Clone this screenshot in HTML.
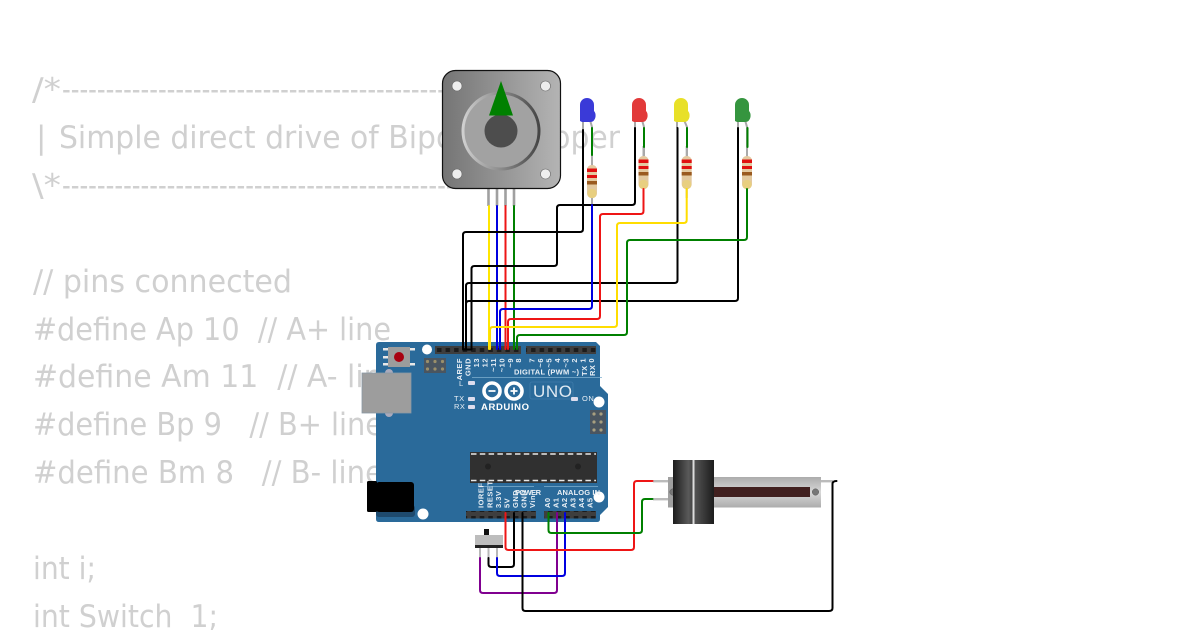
<!DOCTYPE html>
<html><head><meta charset="utf-8"><style>
html,body{margin:0;padding:0;background:#fff;width:1200px;height:630px;overflow:hidden}
svg{display:block}
.c{font-family:"DejaVu Sans",sans-serif;font-size:31px;fill:#d0d0d0}
.l{font-family:"Liberation Sans",sans-serif;font-size:7.5px;font-weight:bold;fill:#e8eff5;letter-spacing:.5px}
.w{fill:none;stroke-width:2;stroke-linejoin:round;stroke-linecap:round}
</style></head><body>
<svg width="1200" height="630" viewBox="0 0 1200 630" xmlns="http://www.w3.org/2000/svg">
<defs>
<linearGradient id="m" x1="0" x2="1" y1="0" y2="0"><stop offset="0" stop-color="#757575"/><stop offset="1" stop-color="#b4b4b4"/></linearGradient>
<linearGradient id="ring" x1="0" x2="1" y1="0" y2="0"><stop offset="0" stop-color="#d0d0d0"/><stop offset="1" stop-color="#454545"/></linearGradient>
<linearGradient id="kn" x1="0" x2="1" y1="0" y2="0"><stop offset="0" stop-color="#1c1c1c"/><stop offset=".8" stop-color="#5a5a5a"/><stop offset="1" stop-color="#444"/></linearGradient>
<linearGradient id="kn2" x1="0" x2="1" y1="0" y2="0"><stop offset="0" stop-color="#555"/><stop offset="1" stop-color="#1c1c1c"/></linearGradient>
<linearGradient id="sl" x1="0" x2="0" y1="0" y2="1"><stop offset="0" stop-color="#acacac"/><stop offset=".5" stop-color="#d8d8d8"/><stop offset="1" stop-color="#acacac"/></linearGradient>
<pattern id="hp" x="435" y="346" width="8.55" height="8" patternUnits="userSpaceOnUse"><rect width="8.55" height="8" fill="#3e3e3e"/><rect x="2" y="2" width="4.5" height="4" fill="#1c1c1c"/></pattern>
<g id="res"><rect x="-1" y="-10" width="2" height="52" fill="#aaa"/><rect x="-5" y="0" width="10" height="33" rx="4.5" fill="#e3c9a0"/><rect x="-5" y="3.5" width="10" height="3.5" fill="#e01010"/><rect x="-5" y="10" width="10" height="3" fill="#e01010"/><rect x="-5" y="16" width="10" height="3.5" fill="#9a5a20"/><rect x="-4.500" y="24" width="9" height="9" rx="4" fill="#e8cf80"/></g>
</defs>
<rect width="1200" height="630" fill="#fff"/>

<!-- code text -->
<text class="c" x="32" y="100" textLength="29" lengthAdjust="spacingAndGlyphs">/*</text>
<text class="c" x="62" y="100" textLength="410" lengthAdjust="spacingAndGlyphs">-----------------------------------------------</text>
<text class="c" x="36" y="148">|</text>
<text class="c" x="59" y="148" textLength="561" lengthAdjust="spacingAndGlyphs">Simple direct drive of Bipolar Stepper</text>
<text class="c" x="32" y="196" textLength="29" lengthAdjust="spacingAndGlyphs">\*</text>
<text class="c" x="62" y="196" textLength="410" lengthAdjust="spacingAndGlyphs">-----------------------------------------------</text>
<text class="c" x="33" y="292" textLength="259" lengthAdjust="spacingAndGlyphs">// pins connected</text>
<text class="c" x="33" y="340" xml:space="preserve" textLength="358" lengthAdjust="spacingAndGlyphs">#define Ap 10  // A+ line</text>
<text class="c" x="33" y="387" xml:space="preserve" textLength="368" lengthAdjust="spacingAndGlyphs">#define Am 11  // A- line</text>
<text class="c" x="33" y="435" xml:space="preserve" textLength="350" lengthAdjust="spacingAndGlyphs">#define Bp 9   // B+ line</text>
<text class="c" x="33" y="483" xml:space="preserve" textLength="350" lengthAdjust="spacingAndGlyphs">#define Bm 8   // B- line</text>
<text class="c" x="33" y="579" textLength="63" lengthAdjust="spacingAndGlyphs">int i;</text>
<text class="c" x="33" y="627" xml:space="preserve" textLength="185" lengthAdjust="spacingAndGlyphs">int Switch  1;</text>

<!-- Arduino board -->
<path d="M379 342H596L600 346V386L608 394V507L600 515V519Q600 522 597 522H379Q376 522 376 519V345Q376 342 379 342Z" fill="#2a6a9a"/>
<rect x="435" y="346" width="86" height="8" fill="url(#hp)"/>
<rect x="526" y="346" width="70" height="8" fill="url(#hp)"/>
<rect x="466" y="511" width="70" height="7.5" fill="url(#hp)"/>
<rect x="544" y="511" width="52" height="7.5" fill="url(#hp)"/>
<circle cx="427" cy="349.5" r="5" fill="#fff"/><circle cx="599" cy="402" r="5.5" fill="#fff"/><circle cx="423" cy="514" r="5.5" fill="#fff"/><circle cx="599" cy="497" r="5.5" fill="#fff"/>
<!-- reset -->
<g fill="#e8e8e8"><rect x="383" y="348" width="6" height="2.5"/><rect x="383" y="356" width="6" height="2.5"/><rect x="383" y="363" width="6" height="2.5"/><rect x="410" y="348" width="5" height="2.5"/><rect x="410" y="363" width="5" height="2.5"/></g>
<rect x="388" y="347" width="22" height="20" fill="#9c9c9c"/><circle cx="399" cy="357" r="5" fill="#a80010"/>
<!-- ICSP -->
<rect x="424" y="358" width="22" height="15" fill="#4a5560"/>
<g fill="#9a8f6a"><circle cx="427.5" cy="361.5" r="1.6"/><circle cx="435" cy="361.5" r="1.6"/><circle cx="442.5" cy="361.5" r="1.6"/><circle cx="427.5" cy="369" r="1.6"/><circle cx="435" cy="369" r="1.6"/><circle cx="442.5" cy="369" r="1.6"/></g>
<rect x="590" y="410" width="16" height="24" fill="#4a5560"/>
<g fill="#a89f80"><circle cx="594" cy="414" r="1.6"/><circle cx="601" cy="414" r="1.6"/><circle cx="594" cy="422" r="1.6"/><circle cx="601" cy="422" r="1.6"/><circle cx="594" cy="430" r="1.6"/><circle cx="601" cy="430" r="1.6"/></g>
<!-- USB -->
<circle cx="389" cy="373" r="4" fill="#aab"/><circle cx="389" cy="413" r="4" fill="#aab"/>
<rect x="362" y="373" width="49" height="40" fill="#9d9d9d" stroke="#8a99a6" stroke-width=".8"/>
<!-- jack -->
<rect x="376" y="505" width="39" height="12" rx="3" fill="#1e4a6e"/>
<rect x="367" y="481" width="10" height="31" rx="1.5" fill="#000"/>
<rect x="376" y="482" width="38" height="30" rx="3" fill="#000"/>
<!-- chip -->
<rect x="470" y="452" width="127" height="31" fill="#303030"/>
<path d="M471 454H596M471 480.5H596" stroke="#e8e8e8" stroke-width="1.6" stroke-dasharray="5.5 3.3" fill="none"/>
<circle cx="488" cy="466.5" r="3" fill="#222"/><circle cx="578" cy="466.5" r="3" fill="#222"/>
<!-- logo -->
<g fill="none" stroke="#fff" stroke-width="3.6"><circle cx="492" cy="391" r="8"/><circle cx="514" cy="391" r="8"/></g>
<path d="M488.5 391H495.5M510.5 391H517.5M514 387.5V394.5" stroke="#fff" stroke-width="1.8"/>
<text x="481" y="410" font-family="Liberation Sans,sans-serif" font-weight="bold" font-size="9.5" fill="#fff" textLength="48">ARDUINO</text>
<rect x="530" y="382" width="43" height="17" rx="2" fill="none" stroke="#3f7cab" stroke-width=".8"/>
<text x="533" y="397" font-family="Liberation Sans,sans-serif" font-size="17" fill="#dfe9f2" textLength="39">UNO</text>
<g fill="#dde"><rect x="468" y="381" width="7" height="4" rx="1"/><rect x="468" y="397" width="7" height="4" rx="1"/><rect x="468" y="405" width="7" height="4" rx="1"/><rect x="571" y="397" width="7" height="4" rx="1"/></g>
<text class="l" x="459" y="386" style="font-weight:normal">L</text>
<text class="l" x="454" y="401" style="font-weight:normal">TX</text>
<text class="l" x="454" y="409" style="font-weight:normal">RX</text>
<text class="l" x="582" y="401" style="font-weight:normal">ON</text>
<path d="M472 377.5H602M478 486.5H534M544 486.5H598" stroke="#7fb0d0" stroke-width=".7"/>
<text class="l" x="514" y="374.5" textLength="65" style="letter-spacing:0">DIGITAL (PWM ~)</text>
<text class="l" x="515" y="495" textLength="26" style="letter-spacing:0">POWER</text>
<text class="l" x="557" y="495" textLength="43" style="letter-spacing:0">ANALOG IN</text>
<g class="l" text-anchor="end">
<text transform="translate(462,358) rotate(-90)">AREF</text>
<text transform="translate(470.5,358) rotate(-90)">GND</text>
<text transform="translate(479,358) rotate(-90)">13</text>
<text transform="translate(487.5,358) rotate(-90)">12</text>
<text transform="translate(496,358) rotate(-90)">~11</text>
<text transform="translate(504.5,358) rotate(-90)">~10</text>
<text transform="translate(513,358) rotate(-90)">~9</text>
<text transform="translate(521,358) rotate(-90)">8</text>
<text transform="translate(534.5,358) rotate(-90)">7</text>
<text transform="translate(543,358) rotate(-90)">~6</text>
<text transform="translate(551.5,358) rotate(-90)">~5</text>
<text transform="translate(560,358) rotate(-90)">4</text>
<text transform="translate(568.5,358) rotate(-90)">~3</text>
<text transform="translate(577,358) rotate(-90)">2</text>
<text transform="translate(585.5,358) rotate(-90)">1</text>
<text transform="translate(594,358) rotate(-90)">0</text>
</g>
<g class="l">
<text transform="translate(587,376) rotate(-90)">TX</text>
<text transform="translate(595,376) rotate(-90)">RX</text>
<text transform="translate(483.5,508) rotate(-90)">IOREF</text>
<text transform="translate(492.5,508) rotate(-90)">RESET</text>
<text transform="translate(501,508) rotate(-90)">3.3V</text>
<text transform="translate(509.5,508) rotate(-90)">5V</text>
<text transform="translate(518,508) rotate(-90)">GND</text>
<text transform="translate(526.5,508) rotate(-90)">GND</text>
<text transform="translate(535,508) rotate(-90)">Vin</text>
<text transform="translate(550,508) rotate(-90)">A0</text>
<text transform="translate(558.5,508) rotate(-90)">A1</text>
<text transform="translate(567,508) rotate(-90)">A2</text>
<text transform="translate(575.5,508) rotate(-90)">A3</text>
<text transform="translate(584,508) rotate(-90)">A4</text>
<text transform="translate(592.5,508) rotate(-90)">A5</text>
</g>

<!-- Motor -->
<path d="M488.5 189V206M497 189V206M505.5 189V206M514 189V206" stroke="#a0a0a0" stroke-width="2.6" fill="none"/>
<rect x="442.5" y="70.5" width="118" height="118" rx="13" fill="url(#m)" stroke="#111" stroke-width="1.2"/>
<circle cx="457" cy="86" r="5" fill="#eee" stroke="#666" stroke-width=".6"/><circle cx="545.5" cy="86" r="5" fill="#eee" stroke="#666" stroke-width=".6"/><circle cx="457" cy="174" r="5" fill="#eee" stroke="#666" stroke-width=".6"/><circle cx="545.5" cy="174" r="5" fill="#eee" stroke="#666" stroke-width=".6"/>
<circle cx="501" cy="131" r="38" fill="#a2a2a2" stroke="url(#ring)" stroke-width="3"/>
<circle cx="501" cy="131" r="16.5" fill="#4d4d4d"/>
<path d="M501 81L513 115.5H489Z" fill="#008000"/>

<!-- LEDs -->
<g fill="none" stroke="#a8a8a8" stroke-width="2">
<path d="M583 120V130M590 120L592 127V165"/>
<path d="M635 120V128M642 120L644 127V156"/>
<path d="M677 120V128M684 120L687 127V156"/>
<path d="M738 120V128M745 120L747 127V156"/>
</g>
<g>
<path d="M580 121V105A7 7 0 0 1 594 105V111Q596 113 595.500 117Q594.500 122 590 122H582Z" fill="#3a3ad8"/>
<path d="M632 121V105A7 7 0 0 1 646 105V111Q648 113 647.500 117Q646.500 122 642 122H634Z" fill="#e23a3a"/>
<path d="M674 121V105A7 7 0 0 1 688 105V111Q690 113 689.500 117Q688.500 122 684 122H676Z" fill="#e8e028"/>
<path d="M735 121V105A7 7 0 0 1 749 105V111Q751 113 750.500 117Q749.500 122 745 122H737Z" fill="#35953f"/>
</g>
<use href="#res" x="592" y="165"/><use href="#res" x="643.5" y="156"/><use href="#res" x="686.7" y="156"/><use href="#res" x="747" y="156"/>
<path d="M592 128V155M644 128V147M687 128V147M747.5 128V147" class="w" stroke="#008000"/>

<!-- Slide pot -->
<rect x="653" y="480" width="16" height="2.4" fill="#bbb"/><rect x="653" y="498" width="16" height="2.4" fill="#bbb"/><rect x="820" y="480" width="13" height="2.4" fill="#bbb"/>
<rect x="668" y="477" width="153" height="30.5" fill="url(#sl)"/>
<rect x="668" y="477" width="8" height="30.5" fill="#a0a0a0"/>
<rect x="714" y="487" width="96" height="10" fill="#41201f"/>
<circle cx="673" cy="492" r="3.2" fill="#777" stroke="#555" stroke-width=".5"/><circle cx="815.5" cy="492" r="3.2" fill="#777" stroke="#555" stroke-width=".5"/>
<rect x="673" y="460" width="19.5" height="64" fill="url(#kn)"/>
<rect x="692.5" y="460" width="2" height="64" fill="#ddd"/>
<rect x="694.5" y="460" width="19.5" height="64" fill="url(#kn2)"/>

<!-- Slide switch -->
<rect x="484" y="529" width="5" height="7" fill="#111"/>
<rect x="475" y="535" width="28" height="10" fill="#bdbdbd"/>
<rect x="475" y="545" width="28" height="3" fill="#222"/>
<path d="M480 548V558M488.5 548V558M497 548V558" stroke="#b8b8b8" stroke-width="2" fill="none"/>

<!-- Wires -->
<g class="w">
<path stroke="#800090" d="M480 558V590Q480 593 483 593H554Q557 593 557 590V513"/>
<path stroke="#000" d="M488.5 558V564Q488.5 567 491.5 567H511Q514 567 514 564V513"/>
<path stroke="#0000e0" d="M497 558V573Q497 576 500 576H562Q565 576 565 573V513"/>
<path stroke="#000" d="M522.5 513V608Q522.5 611 525.5 611H829Q832.5 611 832.5 608V484Q832.5 481 836.5 481"/>
<path stroke="#ee1515" d="M505.5 513V547Q505.5 550 508.5 550H631Q634 550 634 547V484Q634 481 637 481H652.5"/>
<path stroke="#008000" d="M548.5 513V530Q548.5 533 551.5 533H639Q642 533 642 530V502Q642 499 645 499H652.5"/>

<path stroke="#ffe600" d="M489 349V206"/>
<path stroke="#0000e0" d="M497 349V206"/>
<path stroke="#ee1515" d="M505.5 349V206"/>
<path stroke="#008000" d="M514 349V206"/>

<path stroke="#000" d="M583 130V229Q583 232 580 232H466Q463 232 463 235V349"/>
<path stroke="#000" d="M635 128V202Q635 205 632 205H560Q557 205 557 208V263Q557 266 554 266H474.500Q471.500 266 471.500 269V349"/>
<path stroke="#000" d="M677.500 128V280Q677.500 283 674.500 283H469Q466 283 466 286V349"/>
<path stroke="#000" d="M738 128V298Q738 301 735 301H469Q466 301 466 304V349"/>
<path stroke="#000" d="M463 349.500H471.500"/>

<path stroke="#0000e0" d="M592 205V306Q592 309 589 309H503Q500 309 500 312V349"/>
<path stroke="#ee1515" d="M643.500 189V211Q643.500 214 640.500 214H603Q600 214 600 217V316Q600 319 597 319H511Q508 319 508 322V349"/>
<path stroke="#ffdd00" d="M686.700 189V220Q686.700 223 683.700 223H620Q617 223 617 226V324Q617 327 614 327H493Q490 327 490 330V349"/>
<path stroke="#008000" d="M747 189V237Q747 240 744 240H630Q627 240 627 243V332Q627 335 624 335H520Q517 335 517 338V349"/>
</g>
</svg>
</body></html>
